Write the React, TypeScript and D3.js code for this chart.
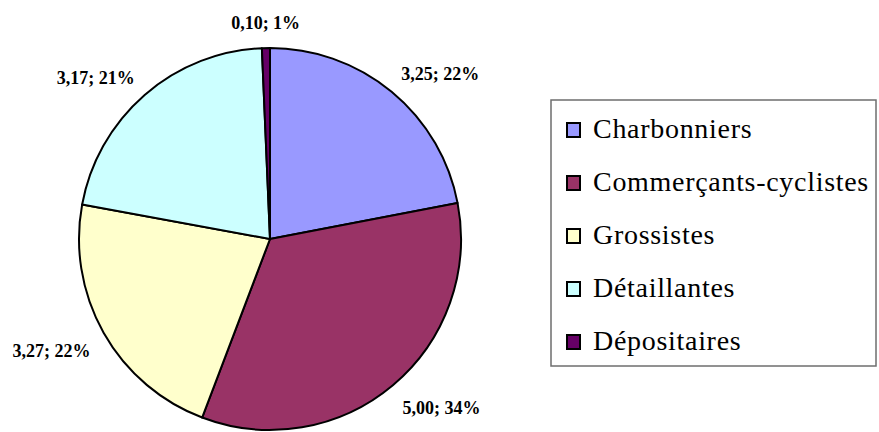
import React from "react";
import * as d3 from "d3";

const categories = ["Charbonniers", "Commerçants-cyclistes", "Grossistes", "Détaillantes", "Dépositaires"];
const values = [3.25, 5.0, 3.27, 3.17, 0.1];
const labels = ["3,25; 22%", "5,00; 34%", "3,27; 22%", "3,17; 21%", "0,10; 1%"];
const colors = ["#9999FF", "#993366", "#FFFFCC", "#CCFFFF", "#660066"];

const W = 879;
const H = 432;
const cx = 270;
const cy = 239;
const R = 191;
const FONT = '"Liberation Serif", "Times New Roman", Tinos';

export default function App() {
  const pie = d3.pie<number>().sort(null).value((d) => d);
  const arcs = pie(values);
  const arc = d3.arc<d3.PieArcDatum<number>>().innerRadius(0).outerRadius(R);

  const legendX = 551;
  const legendY = 100;
  const legendW = 325;
  const legendH = 266;
  const rowY = d3.scalePoint<string>().domain(categories).range([130, 342]);

  return (
    <svg
      width={W}
      height={H}
      fontFamily={FONT}
      style={{ position: "absolute", left: 0, top: 0, background: "#fff", fontFamily: FONT }}
    >
      <g transform={`translate(${cx},${cy})`}>
        {arcs.map((a, i) => (
          <path key={i} d={arc(a) || ""} fill={colors[i]} stroke="#000" strokeWidth={2} strokeLinejoin="round" />
        ))}
        {arcs.map((a, i) => {
          const mid = (a.startAngle + a.endAngle) / 2;
          const s = Math.sin(mid);
          const c = Math.cos(mid);
          const d = R + 15;
          const px = s * d;
          const py = -c * d;
          const anchor = Math.abs(s) < 0.15 ? "middle" : s > 0 ? "start" : "end";
          const baseline = c < 0 ? py + 17 : py - (Math.abs(s) < 0.15 ? 4 : 0);
          return (
            <text key={i} x={px} y={baseline} textAnchor={anchor} fontWeight="bold" fontSize={18} fill="#000">
              {labels[i]}
            </text>
          );
        })}
      </g>
      <rect x={legendX} y={legendY} width={legendW} height={legendH} fill="#fff" stroke="#6e6e6e" strokeWidth={1.5} />
      {categories.map((cat, i) => {
        const y = rowY(cat) as number;
        return (
          <g key={cat}>
            <rect x={567} y={y - 7} width={13} height={14} fill={colors[i]} stroke="#000" strokeWidth={2} />
            <text x={593} y={y + 8} fontSize={28} fontWeight="normal" letterSpacing={0.7} fill="#000">
              {cat}
            </text>
          </g>
        );
      })}
    </svg>
  );
}
